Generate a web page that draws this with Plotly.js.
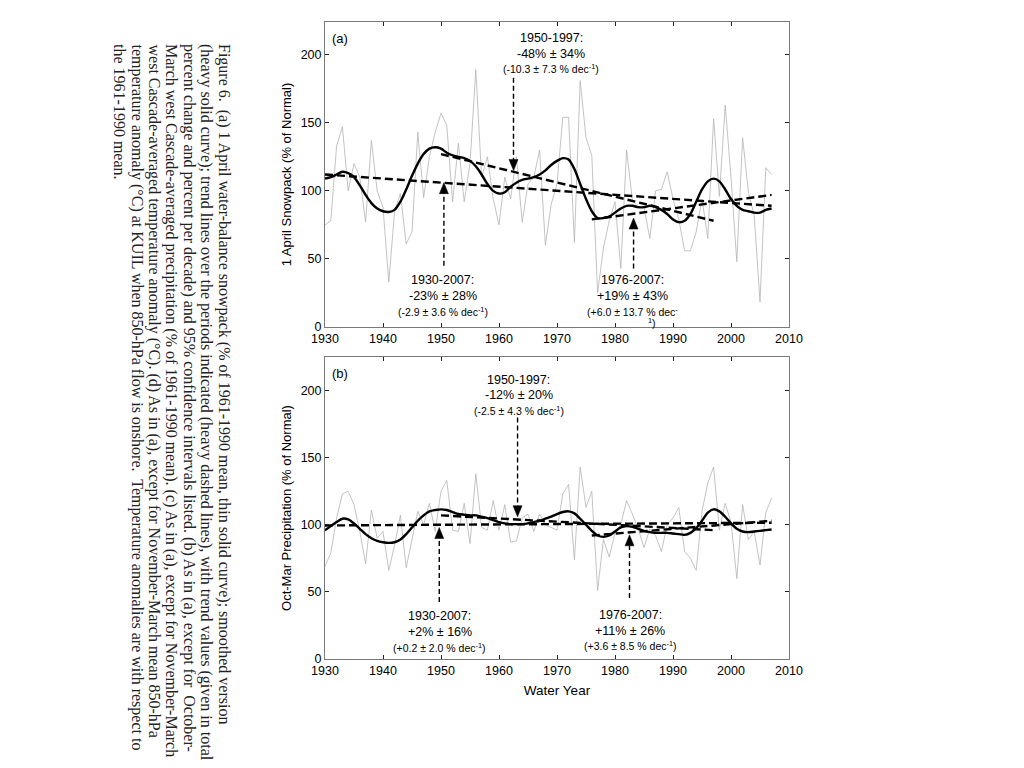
<!DOCTYPE html>
<html><head><meta charset="utf-8">
<script src="https://cdn.plot.ly/plotly-3.0.1.min.js"></script>
<style>html,body{margin:0;padding:0;background:#fff;}#chart{width:1024px;height:768px;}</style>
</head><body><div id="chart"></div>
<script>
const years = [1930,1931,1932,1933,1934,1935,1936,1937,1938,1939,1940,1941,1942,1943,1944,1945,1946,1947,1948,1949,
1950,1951,1952,1953,1954,1955,1956,1957,1958,1959,1960,1961,1962,1963,1964,1965,1966,1967,1968,1969,
1970,1971,1972,1973,1974,1975,1976,1977,1978,1979,1980,1981,1982,1983,1984,1985,1986,1987,1988,1989,
1990,1991,1992,1993,1994,1995,1996,1997,1998,1999,2000,2001,2002,2003,2004,2005,2006,2007];

// (a) 1 April snowpack, % of normal
const snowpack = [75,78,133,147,100,120,110,77,137,100,88,33,85,98,61,70,143,95,125,143,
157,148,92,135,92,120,189,110,125,94,75,110,94,125,77,105,110,130,60,90,
105,154,154,62,181,139,126,25,58,78,92,43,130,93,88,88,65,100,101,114,
94,79,56,56,70,94,65,153,96,163,110,48,139,99,82,18.5,117,112];
const snowSmooth = [109,110,112,114,113,110,104,97,91,87,85,84.5,86,92,101,111,120,127,131,132,
131,128,126,125,124,122,118,112,105,100,98,99,103,106,108,109,110,112,115,119,
122,124,123,116,105,94,85,80,80,81,84,87,89,89,88,88,89,88,86,83,
79,77,78,83,92,101,107,109,107,101,94,89,86,85,84,84,86,87];

// (b) Oct-Mar precipitation, % of normal
const precip = [69,79,105,123,125,115,95,71,111,90,95,66,85,107,68,88,110,100,116,95,
125,133,96,95,116,86,138,98,96,118,96,115,87,88,105,108,95,108,100,98,
96,123,130,74,143,113,125,51,89,76,94,100,118,108,97,83,97,92,80,100,
105,113,80,75,66,110,131,143,96,116,102,60,115,89,95,70,109,120];
const precipSmooth = [96,99,102,104.5,104,101,97,93,90,88,87,86.5,87,89,93,98,103,107,110,111,
111.5,111,109.5,108,107.5,107,107,106,105,103.5,102,101,100.5,100.5,100.5,101,102,103,104.5,106,
108,109.5,110,108.5,104.5,100,95.5,92,91,92,95,98,99,98.5,97,95.5,94.5,94,94,94,
93.5,93,92.5,94,97.5,103,109,111.5,110,106,101,97,95,94.5,95,95.5,96,96.5];

// trend periods and fitted end values
const trendPeriods = [[1930,2007],[1950,1997],[1976,2007]];
const snowTrendEnds = [[112,89],[127,78],[79,97]];
const precipTrendEnds = [[99.5,101.5],[107,96],[92,103]];

const xTicks = [1930,1940,1950,1960,1970,1980,1990,2000,2010];
const yTicks = [0,50,100,150,200];

const captionLines = [
"Figure 6.&nbsp; (a) 1 April water-balance snowpack (% of 1961-1990 mean, thin solid curve); smoothed version",
"(heavy solid curve); trend lines over the periods indicated (heavy dashed lines), with trend values (given in total",
"percent change and percent per decade) and 95% confidence intervals listed. (b) As in (a), except for&nbsp; October-",
"March west Cascade-averaged precipitation (% of 1961-1990 mean). (c) As in (a), except for November-March",
"west Cascade-averaged temperature anomaly (°C). (d) As in (a), except for November-March mean 850-hPa",
"temperature anomaly (°C) at KUIL when 850-hPa flow is onshore.&nbsp; Temperature anomalies are with respect to",
"the 1961-1990 mean."
];

const SANS = 'Liberation Sans, Arial, Helvetica, sans-serif';
const SERIF = 'Liberation Serif, Times New Roman, serif';

const traces = [];
function panel(xa, ya, raw, smooth, trends) {
  traces.push({x: years, y: raw, xaxis: xa, yaxis: ya, type: 'scatter', mode: 'lines',
    line: {color: '#b4b4b4', width: 0.8}, hoverinfo: 'x+y'});
  trendPeriods.forEach((p, i) => {
    traces.push({x: p, y: trends[i], xaxis: xa, yaxis: ya, type: 'scatter', mode: 'lines',
      line: {color: '#000', width: 2.4, dash: '8px,4px'}});
  });
  traces.push({x: years, y: smooth, xaxis: xa, yaxis: ya, type: 'scatter', mode: 'lines',
    line: {color: '#000', width: 2.4, shape: 'spline', smoothing: 0.8}});
}
panel('x', 'y', snowpack, snowSmooth, snowTrendEnds);
panel('x2', 'y2', precip, precipSmooth, precipTrendEnds);

function axis(extra) {
  return Object.assign({
    showline: true, mirror: 'ticks', linecolor: '#7a7a7a', linewidth: 1,
    ticks: 'inside', ticklen: 4, tickcolor: '#222', tickwidth: 1,
    showgrid: false, zeroline: false,
    tickfont: {family: SANS, size: 12.5, color: '#000'}
  }, extra);
}

const annotations = [];
const shapes = [];
function label(xr, yr, x, y, text, size) {
  annotations.push({xref: xr, yref: yr, x: x, y: y, text: text, showarrow: false,
    xanchor: 'center', yanchor: 'middle', font: {family: SANS, size: size, color: '#000'}});
}
function arrow(xr, yr, x, tail, tip, down) {
  const hl = down ? 6 : -6; // stop the dashed stem at the head
  shapes.push({type: 'line', xref: xr, yref: yr, x0: x, x1: x, y0: tail, y1: tip + hl,
    line: {color: '#000', width: 1.4, dash: '5px,3px'}});
  shapes.push({type: 'path', xref: xr, yref: yr, xsizemode: 'pixel', ysizemode: 'pixel',
    xanchor: x, yanchor: tip,
    path: down ? 'M-4.5,11 L4.5,11 L0,0 Z' : 'M-4.5,-11 L4.5,-11 L0,0 Z',
    fillcolor: '#000', line: {color: '#000', width: 0.5}});
}

// panel (a) labels
label('x', 'y', 1932.6, 212, '(a)', 13);
label('x', 'y', 1969, 212, '1950-1997:', 12.5);
label('x', 'y', 1969, 200.7, '-48% ± 34%', 12.5);
label('x', 'y', 1969, 189.7, '(-10.3 ± 7.3 % dec<sup>-1</sup>)', 10.5);
arrow('x', 'y', 1962.5, 183, 115, true);
label('x', 'y', 1950.3, 34.4, '1930-2007:', 12.5);
label('x', 'y', 1950.3, 22.7, '-23% ± 28%', 12.5);
label('x', 'y', 1950.3, 11.7, '(-2.9 ± 3.6 % dec<sup>-1</sup>)', 10.5);
arrow('x', 'y', 1950.5, 45, 106, false);
label('x', 'y', 1983.1, 34.4, '1976-2007:', 12.5);
label('x', 'y', 1983.1, 22.7, '+19% ± 43%', 12.5);
label('x', 'y', 1983.1, 11.7, '(+6.0 ± 13.7 % dec<sup>-</sup>', 10.5);
label('x', 'y', 1986.3, 3.2, '<sup>1</sup>)', 10.5);
arrow('x', 'y', 1983.2, 43, 80, false);

// panel (b) labels
label('x2', 'y2', 1932.6, 213, '(b)', 13);
label('x2', 'y2', 1963.4, 208, '1950-1997:', 12.5);
label('x2', 'y2', 1963.4, 196.7, '-12% ± 20%', 12.5);
label('x2', 'y2', 1963.4, 185.5, '(-2.5 ± 4.3 % dec<sup>-1</sup>)', 10.5);
arrow('x2', 'y2', 1963.2, 180, 106, true);
label('x2', 'y2', 1949.8, 32, '1930-2007:', 12.5);
label('x2', 'y2', 1949.8, 20.1, '+2% ± 16%', 12.5);
label('x2', 'y2', 1949.8, 8.9, '(+0.2 ± 2.0 % dec<sup>-1</sup>)', 10.5);
arrow('x2', 'y2', 1949.7, 42.5, 98, false);
label('x2', 'y2', 1982.6, 32.8, '1976-2007:', 12.5);
label('x2', 'y2', 1982.6, 20.9, '+11% ± 26%', 12.5);
label('x2', 'y2', 1982.6, 9.7, '(+3.6 ± 8.5 % dec<sup>-1</sup>)', 10.5);
arrow('x2', 'y2', 1982.5, 45.5, 92.5, false);

// rotated caption at left
const capX = [224, 206.5, 189, 171.5, 154, 136.5, 119];
captionLines.forEach((t, i) => {
  annotations.push({xref: 'paper', yref: 'paper', x: (capX[i] - 325) / 464, y: (659 - 42) / 637,
    xanchor: 'center', yanchor: 'top', textangle: 90, showarrow: false, align: 'left',
    text: t, font: {family: SERIF, size: 16, color: '#222'}});
});

const layout = {
  width: 1024, height: 768,
  margin: {l: 325, r: 235, t: 22, b: 109, pad: 0},
  paper_bgcolor: '#fff', plot_bgcolor: '#fff', showlegend: false,
  font: {family: SANS, size: 12.5, color: '#000'},
  xaxis: axis({domain: [0, 1], anchor: 'y', range: [1930, 2010], tickvals: xTicks}),
  yaxis: axis({domain: [0.5212, 1], anchor: 'x', range: [0, 224], tickvals: yTicks,
    title: {text: '1 April Snowpack (% of Normal)', font: {family: SANS, size: 13}, standoff: 6}}),
  xaxis2: axis({domain: [0, 1], anchor: 'y2', range: [1930, 2010], tickvals: xTicks,
    title: {text: 'Water Year', font: {family: SANS, size: 13.5}, standoff: 8}}),
  yaxis2: axis({domain: [0, 0.4741], anchor: 'x2', range: [0, 225], tickvals: yTicks,
    title: {text: 'Oct-Mar Precipitation (% of Normal)', font: {family: SANS, size: 13}, standoff: 6}}),
  annotations: annotations, shapes: shapes
};

Plotly.newPlot('chart', traces, layout, {staticPlot: true, displayModeBar: false});
</script></body></html>
